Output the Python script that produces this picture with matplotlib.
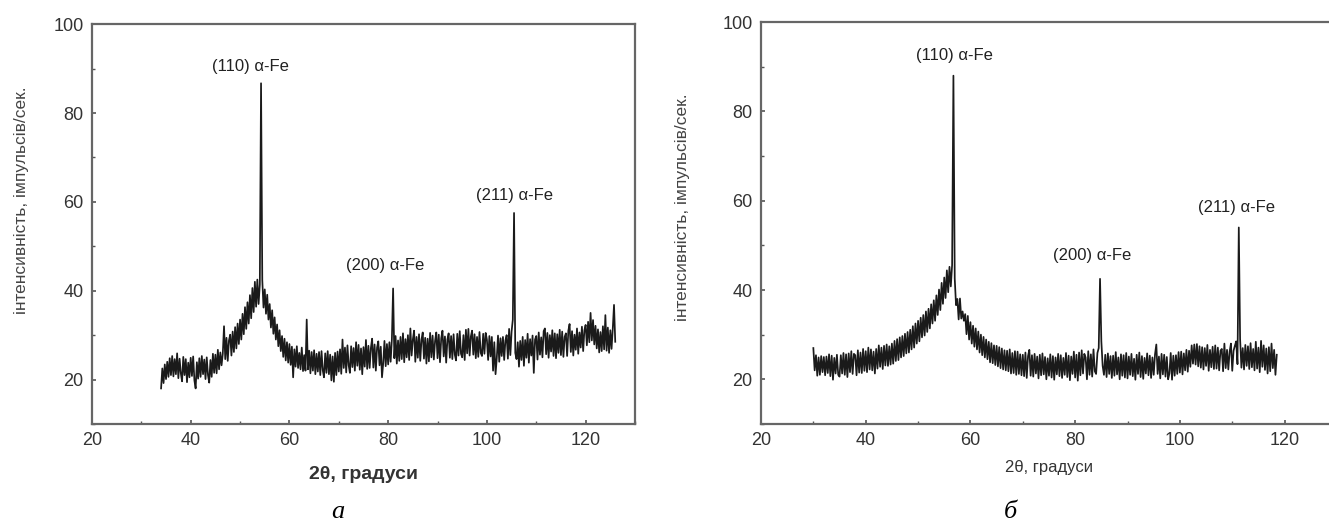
"""
XRD patterns of two alpha-Fe samples, panels a and b
"""

# IMPORTs alias
import numpy as np
import matplotlib
matplotlib.use('Agg')

# IMPORTs sub
import matplotlib.pyplot as plt
from matplotlib.ticker import MultipleLocator


# DATA panel a (2theta starts at 34, step 0.25 deg)
a_start, a_step = 34.0, 0.25
a_counts = [
    18.0, 22.5, 19.2, 23.4,  20.1, 24.0, 20.6, 24.8,  21.0, 25.3, 20.7, 24.6,  # 34-37
    21.2, 25.9, 20.3, 24.7,  21.4, 19.6, 25.1, 21.0,  24.6, 19.4, 23.8, 20.5,  # 37-40
    24.9, 20.8, 25.2, 19.8,  18.0, 23.9, 20.2, 24.8,  20.6, 25.3, 21.2, 24.5,  # 40-43
    20.1, 25.0, 21.0, 19.3,  24.4, 20.6, 25.8, 21.5,  25.6, 21.4, 26.7, 22.3,  # 43-46
    26.1, 23.2, 25.8, 32.0,  24.6, 29.4, 24.2, 28.8,  30.1, 25.4, 30.8, 26.2,  # 46-49
    31.8, 27.0, 32.6, 28.0,  33.5, 29.0, 34.8, 30.2,  36.3, 31.4, 37.4, 32.6,  # 49-52
    39.0, 33.8, 40.6, 35.2,  42.0, 36.4, 42.5, 37.0,  41.4, 86.7, 42.4, 36.2,  # 52-55
    40.3, 34.8, 39.1, 33.5,  37.0, 31.7, 35.6, 30.3,  34.0, 29.0, 32.4, 27.5,  # 55-58
    31.1, 26.4, 29.8, 25.1,  29.2, 24.3, 28.4, 23.8,  28.0, 23.3, 27.4, 20.5,  # 58-61
    26.8, 22.9, 27.5, 22.6,  26.0, 22.3, 27.2, 21.9,  25.5, 22.0, 33.5, 22.3,  # 61-64
    26.5, 21.4, 26.2, 22.0,  26.6, 21.2, 25.8, 21.8,  26.2, 21.0, 26.4, 22.1,  # 64-67
    20.5, 25.9, 21.5, 26.4,  21.2, 25.6, 19.8, 25.2,  19.5, 26.0, 21.0, 26.3,  # 67-70
    21.8, 26.8, 21.3, 29.0,  22.6, 27.2, 21.6, 27.7,  23.2, 21.5, 27.5, 22.8,  # 70-73
    27.1, 22.0, 28.4, 23.1,  27.8, 22.2, 27.0, 21.2,  27.3, 22.9, 28.9, 22.4,  # 73-76
    27.6, 22.6, 27.1, 29.2,  22.7, 27.9, 22.0, 27.2,  28.6, 23.2, 27.4, 20.5,  # 76-79
    23.7, 28.7, 23.0, 28.0,  23.4, 28.4, 24.0, 29.0,  40.5, 24.8, 29.8, 23.6,  # 79-82
    28.8, 24.2, 29.6, 24.6,  30.4, 23.9, 29.1, 25.0,  30.0, 24.4, 31.5, 25.4,  # 82-85
    29.0, 31.0, 24.0, 29.6,  24.9, 30.2, 24.2, 29.0,  30.6, 24.7, 29.4, 23.6,  # 85-88
    29.2, 24.1, 30.5, 25.0,  29.9, 24.5, 28.7, 30.6,  24.8, 30.1, 23.9, 29.3,  # 88-91
    31.0, 25.2, 29.7, 23.8,  29.0, 30.4, 24.9, 29.8,  24.6, 30.2, 25.6, 24.3,  # 91-94
    30.3, 25.4, 30.9, 25.8,  25.0, 30.0, 24.4, 31.2,  25.9, 31.4, 25.4, 29.7,  # 94-97
    31.0, 25.6, 30.2, 24.8,  29.6, 25.1, 30.7, 26.0,  25.3, 30.3, 25.8, 30.5,  # 97-100
    29.0, 24.4, 29.8, 25.2,  29.6, 22.0, 28.4, 21.2,  24.8, 29.9, 24.0, 29.3,  # 100-103
    25.3, 29.6, 24.4, 28.8,  30.0, 24.7, 31.4, 25.5,  30.8, 33.5, 57.5, 26.0,  # 103-106
    24.6, 28.4, 22.9, 28.7,  24.4, 29.6, 23.1, 28.9,  24.9, 30.3, 23.8, 29.1,  # 106-109
    25.4, 29.9, 21.5, 29.0,  29.8, 24.5, 30.6, 25.6,  29.5, 25.0, 30.9, 31.5,  # 109-112
    25.7, 30.5, 24.9, 30.0,  26.3, 31.1, 25.3, 30.4,  24.8, 30.2, 26.0, 31.2,  # 112-115
    25.5, 30.8, 25.1, 29.6,  30.4, 25.3, 31.0, 32.5,  26.2, 30.9, 25.4, 30.1,  # 115-118
    26.7, 31.5, 25.8, 30.6,  27.2, 31.9, 26.4, 31.1,  32.3, 27.7, 33.0, 28.4,  # 118-121
    35.0, 28.8, 33.4, 27.9,  32.1, 27.0, 31.3, 26.1,  30.7, 26.4, 32.0, 26.8,  # 121-124
    34.5, 26.5, 31.7, 26.0,  31.1, 26.9, 31.5, 36.8,  28.5,                    # 124-126
]

# DATA panel b (2theta starts at 30, step 0.25 deg)
b_start, b_step = 30.0, 0.25
b_counts = [
    27.0, 22.0, 25.4, 20.8,  24.9, 21.0, 25.2, 21.6,  25.0, 20.9, 25.1, 21.4,  # 30-33
    25.6, 20.7, 25.3, 19.9,  24.8, 21.3, 25.5, 21.0,  20.6, 25.4, 21.3, 25.9,  # 33-36
    21.0, 25.6, 20.5, 25.8,  21.6, 26.3, 21.2, 25.7,  25.4, 20.9, 26.5, 21.5,  # 36-39
    26.0, 21.4, 26.8, 21.9,  26.3, 21.6, 27.1, 22.2,  26.7, 22.0, 26.2, 21.3,  # 39-42
    26.8, 22.4, 27.6, 22.8,  27.1, 22.3, 27.5, 23.1,  27.8, 23.0, 27.4, 23.3,  # 42-45
    28.0, 23.5, 28.6, 24.1,  29.0, 24.3, 29.4, 24.9,  29.7, 25.2, 30.2, 25.8,  # 45-48
    30.6, 26.0, 31.1, 26.7,  31.9, 27.1, 32.5, 28.0,  33.1, 28.5, 33.8, 29.4,  # 48-51
    34.4, 29.8, 35.2, 30.6,  35.8, 31.4, 36.8, 32.5,  37.7, 33.1, 38.8, 34.4,  # 51-54
    40.1, 35.5, 41.6, 36.9,  42.8, 38.2, 44.4, 39.5,  45.2, 40.8, 45.6, 88.0,  # 54-57
    42.6, 36.6, 38.0, 33.4,  38.1, 33.6, 35.2, 33.1,  34.6, 30.1, 34.2, 28.9,  # 57-60
    32.8, 28.0, 32.0, 27.3,  31.4, 26.7, 30.7, 26.0,  30.0, 25.4, 29.5, 24.9,  # 60-63
    28.9, 24.5, 28.4, 23.8,  28.1, 23.6, 27.6, 23.2,  27.5, 22.9, 27.2, 22.5,  # 63-66
    26.9, 22.2, 26.5, 22.0,  26.4, 21.8, 26.7, 21.3,  25.9, 21.4, 26.3, 21.0,  # 66-69
    26.2, 21.2, 25.6, 20.9,  25.5, 20.7, 26.0, 20.3,  25.2, 26.6, 20.8, 25.4,  # 69-72
    20.6, 25.7, 21.3, 25.1,  20.2, 25.5, 20.9, 25.8,  21.1, 25.0, 20.0, 24.7,  # 72-75
    20.8, 25.6, 20.4, 25.2,  19.9, 24.9, 21.1, 25.7,  20.7, 25.4, 20.3, 24.8,  # 75-78
    21.0, 25.9, 20.5, 25.3,  19.8, 25.1, 21.2, 26.2,  20.4, 25.5, 19.7, 26.0,  # 78-81
    20.9, 26.5, 21.3, 25.7,  24.9, 20.0, 26.3, 21.0,  25.6, 20.6, 26.7, 21.8,  # 81-84
    21.2, 25.9, 27.0, 42.5,  28.5, 23.0, 21.0, 25.5,  20.5, 25.8, 21.2, 25.2,  # 84-87
    20.3, 25.3, 20.8, 26.1,  21.1, 24.9, 20.0, 25.6,  20.8, 25.4, 20.4, 25.9,  # 87-90
    20.2, 25.1, 21.0, 25.7,  20.7, 24.6, 19.9, 25.5,  21.2, 26.0, 20.5, 25.2,  # 90-93
    20.1, 24.8, 21.3, 25.8,  20.9, 25.3, 20.3, 24.9,  21.0, 25.6, 27.8, 21.2,  # 93-96
    25.1, 20.2, 25.7, 21.1,  25.5, 20.6, 25.0, 20.0,  21.3, 25.9, 19.9, 25.3,  # 96-99
    20.8, 25.4, 21.2, 26.1,  21.5, 26.2, 21.1, 25.8,  22.0, 26.6, 21.7, 26.4,  # 99-102
    22.8, 27.6, 23.5, 27.8,  23.3, 27.9, 22.9, 27.4,  22.6, 27.2, 22.2, 27.0,  # 102-105
    23.0, 27.7, 21.9, 26.6,  22.7, 27.3, 22.3, 27.6,  22.4, 27.1, 22.0, 26.4,  # 105-108
    26.8, 21.8, 28.0, 22.5,  26.6, 22.2, 26.2, 28.0,  21.9, 26.4, 27.5, 28.5,  # 108-111
    23.4, 54.0, 29.0, 22.6,  27.0, 22.2, 27.7, 23.0,  27.4, 22.3, 28.1, 22.7,  # 111-114
    26.8, 22.0, 28.4, 22.4,  27.1, 21.6, 28.6, 22.8,  27.6, 22.1, 26.9, 21.3,  # 114-117
    27.2, 21.8, 28.0, 22.5,  26.6, 21.0, 25.5,                                 # 117-118.5
]

# PEAK labels (text, 2theta, intensity of label position)
peak_labels = ['(110) α-Fe', '(200) α-Fe', '(211) α-Fe']
a_label_x = [52.0, 79.3, 105.6]
a_label_y = [90.5, 45.7, 61.5]
b_label_x = [56.9, 83.3, 110.8]
b_label_y = [92.6, 47.8, 58.4]

# AXIS labels
x_title = '2θ, градуси'
y_title = 'інтенсивність, імпульсів/сек.'
panel_letters = ['а', 'б']

SANS = ['Liberation Sans', 'DejaVu Sans']
SERIF = ['Liberation Serif', 'DejaVu Serif']
plt.rcParams['font.family'] = SANS


def style_axes(ax) -> None:
    """Frame, ticks and limits shared by both panels."""

    ax.set_xlim(20, 130)
    ax.set_ylim(10, 100)
    ax.xaxis.set_major_locator(MultipleLocator(20))
    ax.xaxis.set_minor_locator(MultipleLocator(10))
    ax.yaxis.set_major_locator(MultipleLocator(20))
    ax.yaxis.set_minor_locator(MultipleLocator(10))
    ax.set_yticks([20, 40, 60, 80, 100])
    ax.tick_params(which='major', direction='in', length=3, width=1.2,
                   color='#555555', labelsize=13, labelcolor='#333333', pad=6)
    ax.tick_params(which='minor', direction='in', length=2, width=1, color='#555555')
    for spine in ax.spines.values():
        spine.set_color('#666666')
        spine.set_linewidth(1.6)


def draw_panel(ax, start, step, counts, label_x, label_y) -> None:
    """Plot one diffraction pattern with its peak labels."""

    counts = np.asarray(counts)
    two_theta = start + step * np.arange(counts.size)
    ax.plot(two_theta, counts, color='#1a1a1a', linewidth=1.25)
    for text, lx, ly in zip(peak_labels, label_x, label_y):
        ax.text(lx, ly, text, ha='center', va='center', fontsize=12, color='#222222')
    style_axes(ax)


fig = plt.figure(figsize=(13.29, 5.26), dpi=100)

# PANEL a
ax_a = fig.add_axes([0.0692, 0.194, 0.4086, 0.760])
draw_panel(ax_a, a_start, a_step, a_counts, a_label_x, a_label_y)
ax_a.set_xlabel(x_title, fontsize=14, fontweight='bold', color='#333333', labelpad=12)
ax_a.set_ylabel(y_title, fontsize=12.5, color='#444444')
ax_a.yaxis.set_label_coords(-0.116, 0.56)

# PANEL b (frame runs past the right edge of the picture)
ax_b = fig.add_axes([0.5726, 0.194, 0.4334, 0.764])
draw_panel(ax_b, b_start, b_step, b_counts, b_label_x, b_label_y)
ax_b.set_xlabel(x_title, fontsize=12, color='#333333', labelpad=8)
ax_b.set_ylabel(y_title, fontsize=12.5, color='#444444')
ax_b.yaxis.set_label_coords(-0.123, 0.54)

# PANEL letters
fig.text(338 / 1329, 1 - 512 / 526, panel_letters[0], family=SERIF, style='italic',
         fontsize=19, ha='center', va='center')
fig.text(1010 / 1329, 1 - 512 / 526, panel_letters[1], family=SERIF, style='italic',
         fontsize=19, ha='center', va='center')

fig.savefig('out.png', dpi=100)
